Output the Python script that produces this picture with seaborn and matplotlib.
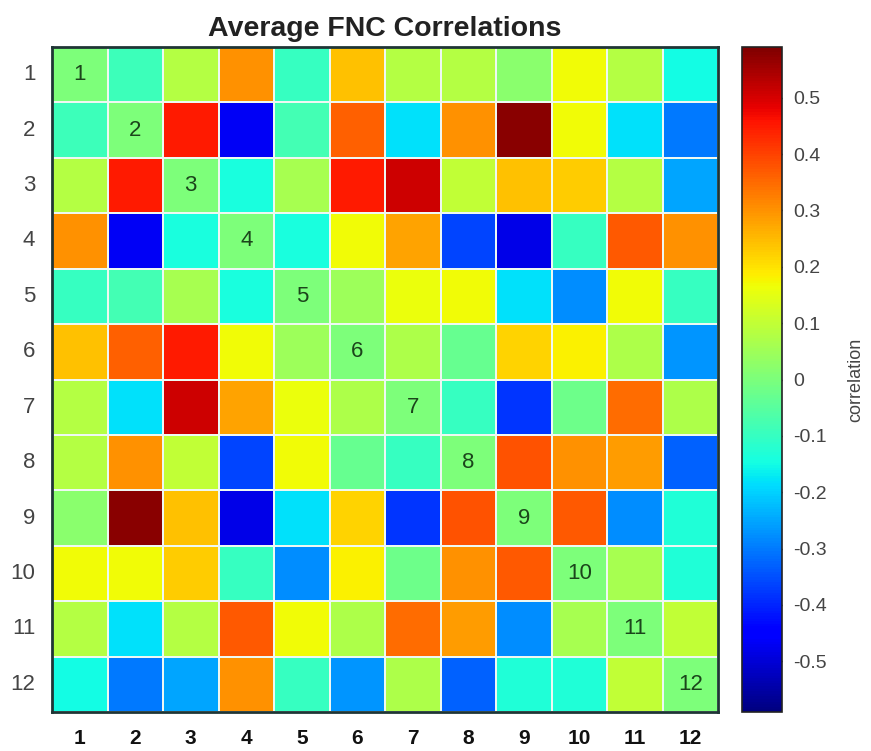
import numpy as np
import pandas as pd
import matplotlib
matplotlib.use("Agg")
import matplotlib.pyplot as plt
import seaborn as sns

labels = [str(i) for i in range(1, 13)]

corr_rows = [
    [0.00, -0.09, 0.08, 0.30, -0.10, 0.24, 0.08, 0.08, 0.02, 0.17, 0.08, -0.15],
    [-0.09, 0.00, 0.45, -0.47, -0.08, 0.36, -0.18, 0.30, 0.58, 0.17, -0.18, -0.30],
    [0.08, 0.45, 0.00, -0.14, 0.06, 0.45, 0.51, 0.10, 0.24, 0.23, 0.08, -0.25],
    [0.30, -0.47, -0.14, 0.00, -0.14, 0.17, 0.28, -0.36, -0.48, -0.10, 0.37, 0.30],
    [-0.10, -0.08, 0.06, -0.14, 0.00, 0.05, 0.16, 0.17, -0.18, -0.28, 0.17, -0.10],
    [0.24, 0.36, 0.45, 0.17, 0.05, 0.00, 0.07, -0.03, 0.22, 0.18, 0.07, -0.27],
    [0.08, -0.18, 0.51, 0.28, 0.16, 0.07, 0.00, -0.10, -0.38, -0.02, 0.35, 0.07],
    [0.08, 0.30, 0.10, -0.36, 0.17, -0.03, -0.10, 0.00, 0.38, 0.30, 0.29, -0.33],
    [0.02, 0.58, 0.24, -0.48, -0.18, 0.22, -0.38, 0.38, 0.00, 0.37, -0.28, -0.13],
    [0.17, 0.17, 0.23, -0.10, -0.28, 0.18, -0.02, 0.30, 0.37, 0.00, 0.06, -0.13],
    [0.08, -0.18, 0.08, 0.37, 0.17, 0.07, 0.35, 0.29, -0.28, 0.06, 0.00, 0.10],
    [-0.15, -0.30, -0.25, 0.30, -0.10, -0.27, 0.07, -0.33, -0.13, -0.13, 0.10, 0.00],
]

cbar_ticks = [-0.5, -0.4, -0.3, -0.2, -0.1, 0, 0.1, 0.2, 0.3, 0.4, 0.5]
vlim = 0.59

df = pd.DataFrame(corr_rows, index=labels, columns=labels)
annot = np.array([[labels[i] if i == j else "" for j in range(12)] for i in range(12)])

sns.set_style("white")
plt.rcParams['font.family'] = ['Liberation Sans', 'DejaVu Sans']

fig = plt.figure(figsize=(8.71, 7.51), dpi=100)
ax = fig.add_axes([0.0597, 0.0519, 0.7647, 0.8855])
cax = fig.add_axes([0.8519, 0.0519, 0.0459, 0.8855])

sns.heatmap(df, ax=ax, cbar_ax=cax, cmap="jet", vmin=-vlim, vmax=vlim,
            linewidths=1.1, linecolor="#eef8f2",
            annot=annot, fmt="", annot_kws={"color": "#1b451b", "fontsize": 16},
            cbar_kws={"ticks": cbar_ticks})

ax.set_title("Average FNC Correlations", fontsize=20.5, fontweight="bold",
             color="#222222", pad=8)
ax.tick_params(axis="both", length=0)
ax.tick_params(axis="y", labelsize=16, labelcolor="#444444", pad=12, rotation=0)
ax.tick_params(axis="x", labelsize=15, labelcolor="#111111", pad=12, rotation=0)
for t in ax.get_xticklabels():
    t.set_fontweight("bold")
for s in ax.spines.values():
    s.set_visible(True)
    s.set_linewidth(2)
    s.set_color("#1f3535")

cb = ax.collections[0].colorbar
cb.outline.set_visible(True)
cb.outline.set_linewidth(1.2)
cb.outline.set_edgecolor("#222222")
cb.ax.tick_params(direction="in", length=5, width=1, color="#222222",
                  labelsize=14, labelcolor="#444444", pad=8)
cb.ax.set_yticklabels([("%g" % v) for v in cbar_ticks])
cb.set_label("correlation", fontsize=13, color="#444444", labelpad=15)

fig.savefig("out.png", dpi=100)
